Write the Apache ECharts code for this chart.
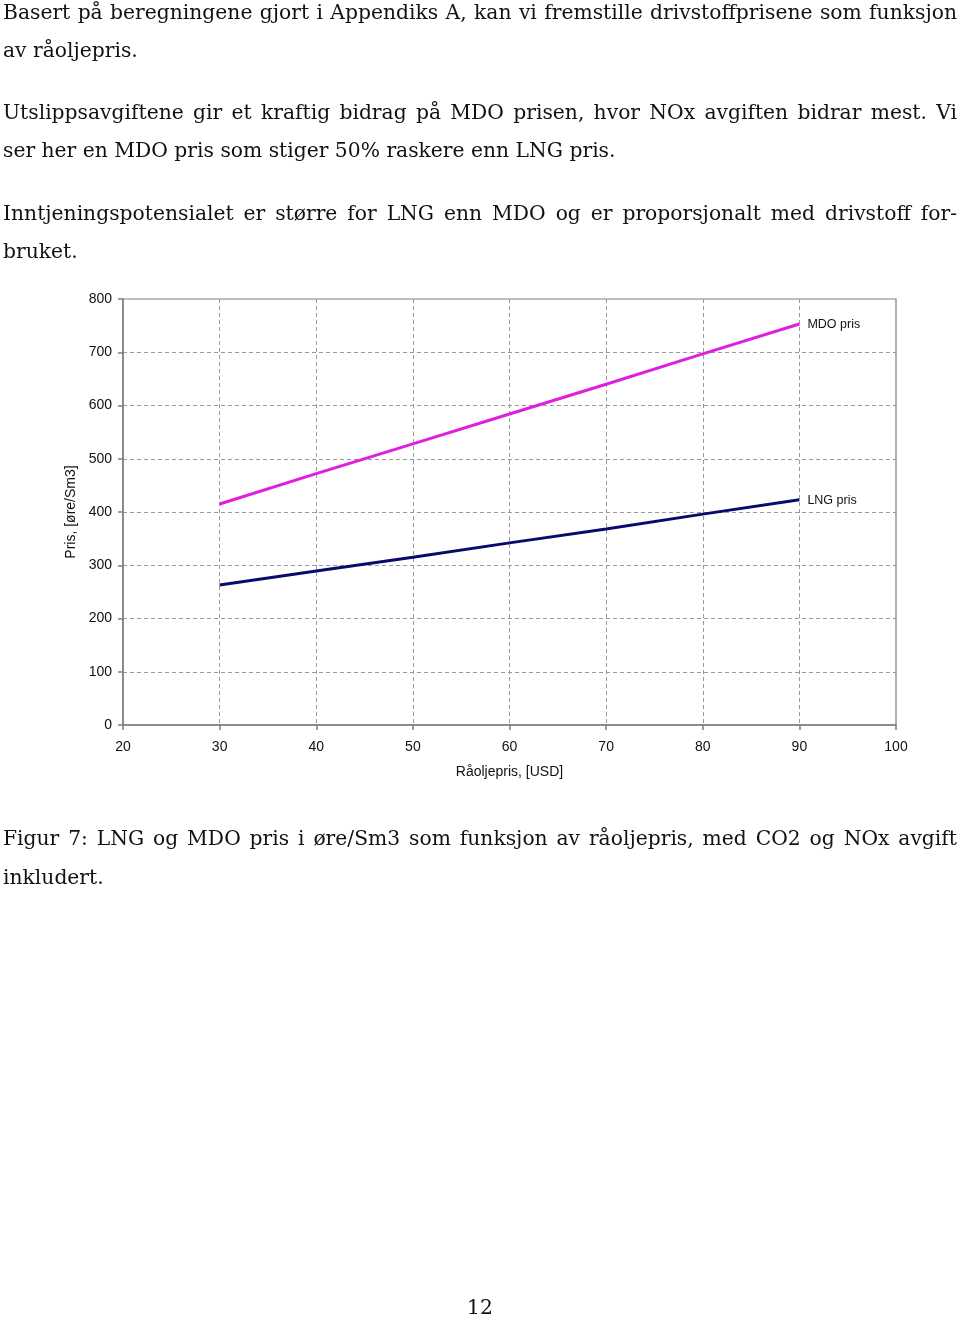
<!DOCTYPE html>
<html>
<head>
<meta charset="utf-8">
<script src="https://cdn.jsdelivr.net/npm/echarts@6/dist/echarts.min.js"></script>
<style>
  html, body { margin: 0; padding: 0; background: #fff; }
  #page { position: relative; width: 960px; height: 1317px; overflow: hidden; }
  #chart { position: absolute; left: 0; top: 0; width: 960px; height: 1317px; }
  .ln { position: absolute; left: 3px; width: 954px; height: 38px; line-height: 38px;
        font-family: "DejaVu Serif", serif; font-size: 20.3px; color: #111; white-space: nowrap; }
  .j { text-align: justify; text-align-last: justify; }
</style>
</head>
<body>
<div id="page">
  <div id="chart"></div>
  <div class="ln j" style="top:-7px">Basert på beregningene gjort i Appendiks A, kan vi fremstille drivstoffprisene som funksjon</div>
  <div class="ln" style="top:31px">av råoljepris.</div>
  <div class="ln j" style="top:93px">Utslippsavgiftene gir et kraftig bidrag på MDO prisen, hvor NOx avgiften bidrar mest. Vi</div>
  <div class="ln" style="top:131px">ser her en MDO pris som stiger 50% raskere enn LNG pris.</div>
  <div class="ln j" style="top:194px">Inntjeningspotensialet er større for LNG enn MDO og er proporsjonalt med drivstoff for-</div>
  <div class="ln" style="top:232px">bruket.</div>
  <div class="ln j" style="top:819px">Figur 7: LNG og MDO pris i øre/Sm3 som funksjon av råoljepris, med CO2 og NOx avgift</div>
  <div class="ln" style="top:858px">inkludert.</div>
  <div class="ln" style="top:1288px; text-align:center; left:0; width:960px">12</div>
</div>
<script>
// Data
const oilPrice = [30, 40, 50, 60, 70, 80, 90];          // Råoljepris, USD
const mdoPrice = [415, 472, 528, 584, 640, 697, 753];   // MDO pris, øre/Sm3
const lngPrice = [263, 289, 315, 342, 368, 396, 423];   // LNG pris, øre/Sm3
const seriesNames = ['MDO pris', 'LNG pris'];
const xAxisTitle = 'Råoljepris, [USD]';
const yAxisTitle = 'Pris, [øre/Sm3]';

const chart = echarts.init(document.getElementById('chart'), null, { renderer: 'canvas' });
const font = '"Liberation Sans", Arial, sans-serif';
const axisGray = '#7f7f7f';
const gridGray = '#9a9a9a';

function pairs(xs, ys) { return xs.map((x, i) => [x, ys[i]]); }

chart.setOption({
  animation: false,
  backgroundColor: 'transparent',
  grid: { left: 123, top: 299, width: 773, height: 426, containLabel: false, outerBoundsMode: 'none',
          show: true, borderColor: axisGray, borderWidth: 1.2 },
  xAxis: {
    type: 'value', min: 20, max: 100, interval: 10,
    name: xAxisTitle, nameLocation: 'middle', nameGap: 40,
    nameTextStyle: { fontFamily: font, fontSize: 14, color: '#111' },
    axisLine: { show: true, lineStyle: { color: axisGray, width: 1.5 } },
    axisTick: { show: true, length: 5, lineStyle: { color: axisGray, width: 1.5 } },
    axisLabel: { fontFamily: font, fontSize: 14, color: '#111', margin: 15 },
    splitLine: { show: true, showMinLine: false, showMaxLine: false,
                 lineStyle: { color: gridGray, width: 1, type: [4, 3] } }
  },
  yAxis: {
    type: 'value', min: 0, max: 800, interval: 100,
    name: yAxisTitle, nameLocation: 'middle', nameGap: 42, nameRotate: 90,
    nameTextStyle: { fontFamily: font, fontSize: 14, color: '#111' },
    axisLine: { show: true, lineStyle: { color: axisGray, width: 1.5 } },
    axisTick: { show: true, length: 5, lineStyle: { color: axisGray, width: 1.5 } },
    axisLabel: { fontFamily: font, fontSize: 14, color: '#111', margin: 11 },
    splitLine: { show: true, showMinLine: false, showMaxLine: false,
                 lineStyle: { color: gridGray, width: 1, type: [4, 3] } }
  },
  series: [
    {
      name: seriesNames[0], type: 'line', data: pairs(oilPrice, mdoPrice),
      showSymbol: false, lineStyle: { color: '#e01ee0', width: 3 }, itemStyle: { color: '#e01ee0' },
      endLabel: { show: true, formatter: '{a}', fontFamily: font, fontSize: 12.5, color: '#111', distance: 8, offset: [0, 1] },
      silent: true
    },
    {
      name: seriesNames[1], type: 'line', data: pairs(oilPrice, lngPrice),
      showSymbol: false, lineStyle: { color: '#0a0a6e', width: 3 }, itemStyle: { color: '#0a0a6e' },
      endLabel: { show: true, formatter: '{a}', fontFamily: font, fontSize: 12.5, color: '#111', distance: 8, offset: [0, 1] },
      silent: true
    }
  ]
});
</script>
</body>
</html>
